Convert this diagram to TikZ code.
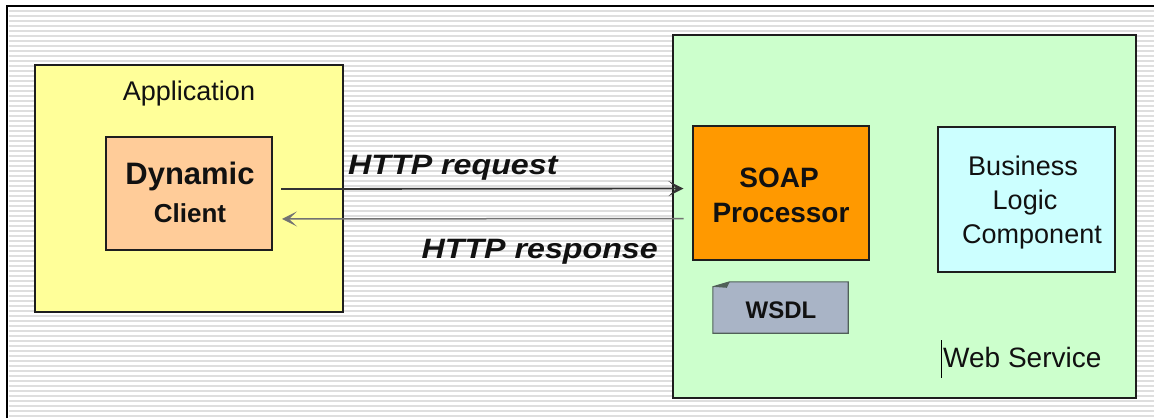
\documentclass[tikz,border=0pt]{standalone}
\usepackage{fontspec}
\setmainfont{Liberation Sans}
\usetikzlibrary{arrows.meta}

\definecolor{appyellow}{HTML}{FFFF99}
\definecolor{clientpeach}{HTML}{FFCC99}
\definecolor{wsgreen}{HTML}{CCFFCC}
\definecolor{soaporange}{HTML}{FF9900}
\definecolor{logiccyan}{HTML}{CCFFFF}
\definecolor{wsdlgray}{RGB}{169,180,198}
\definecolor{wsdledge}{RGB}{80,96,88}
\definecolor{boxline}{RGB}{30,30,30}
\definecolor{inktext}{RGB}{17,17,17}
\definecolor{stripegray}{RGB}{222,222,222}

\newcommand{\fsz}[1]{\fontsize{#1}{#1}\selectfont}

\tikzset{
  box/.style={draw=boxline, line width=1.3pt, inner sep=0pt, outer sep=0pt},
  lbl/.style={text=inktext, inner sep=0pt, anchor=base},
  stripe/.style={draw=stripegray, line width=1.8pt},
  tip/.style={-{Stealth[length=15pt,width=15pt,inset=8pt]}},
  conn/.style={draw=black!80, line width=1.8pt, tip},
  connback/.style={draw=black!55, line width=1.5pt, tip},
}

\begin{document}
\begin{tikzpicture}[x=1pt,y=-1pt]
\useasboundingbox (0,0) rectangle (1154,418);
\fill[white] (0,0) rectangle (1154,418);

% ruled background
\foreach \k in {0,...,81}
  \draw[stripe] (9,11.3+5*\k) -- (1154,11.3+5*\k);
% frame on top and left
\draw[line width=2.6pt, black] (7,418) -- (7,6) -- (1154,6);

% application side
\node[box, fill=appyellow, minimum width=308pt, minimum height=247pt] (app) at (189,188.5) {};
\node[lbl, font=\fsz{27}] (applbl) at (189,100) {Application};
\node[box, fill=clientpeach, minimum width=166pt, minimum height=113pt] (dyn) at (189,193.5) {};
\node[lbl, font=\bfseries\fsz{31}] (dyn1) at (190,184) {Dynamic};
\node[lbl, font=\bfseries\fsz{26}] (dyn2) at (190,222) {Client};

% web service side
\node[box, fill=wsgreen, minimum width=463pt, minimum height=363pt] (ws) at (904.5,216.5) {};
\node[lbl, anchor=base west, font=\fsz{28}] (wslbl) at (943,367) {Web Service};
\draw[line width=1pt, black] (941,340) -- (941,378);

\node[box, fill=soaporange, minimum width=176pt, minimum height=134pt] (soap) at (781,193) {};
\node[lbl, font=\bfseries\fsz{28}] (soap1) at (779,187) {SOAP};
\node[lbl, font=\bfseries\fsz{28}] (soap2) at (781,222) {Processor};

\node[box, fill=logiccyan, minimum width=177pt, minimum height=145pt] (logic) at (1026.5,199.5) {};
\node[lbl, font=\fsz{27}] (bl1) at (1023,175) {Business};
\node[lbl, font=\fsz{27}] (bl2) at (1025,209) {Logic};
\node[lbl, font=\fsz{27}] (bl3) at (1032,243) {Component};

% WSDL document with folded corner
\node[inner sep=0pt, minimum width=135pt, minimum height=51pt] (wsdl) at (780.5,307.5) {};
\draw[wsdledge, line width=1.1pt, fill=wsdlgray]
  ([xshift=17pt]wsdl.north west) -- (wsdl.north east) -- (wsdl.south east)
  -- (wsdl.south west) -- ([yshift=-5pt]wsdl.north west) -- cycle;
\fill[wsdledge] ([yshift=-5pt]wsdl.north west) -- ([xshift=17pt]wsdl.north west)
  -- ([xshift=14pt,yshift=-6pt]wsdl.north west) -- cycle;
\node[lbl, font=\bfseries\fsz{24}] (wsdltext) at (781,318) {WSDL};

% HTTP exchange
\draw[conn, shorten <=9pt, shorten >=9.5pt]
  ([yshift=4.5pt]dyn.east) -- ([yshift=4.5pt]soap.west);
\draw[connback, shorten <=9.5pt, shorten >=10pt]
  ([yshift=-25.5pt]soap.west) -- ([yshift=-25.5pt]dyn.east);
\node[lbl, anchor=base west, font=\bfseries\itshape\fsz{28}] (req) at (348,174)
  {\scalebox{1.15}[1]{HTTP request}};
\node[lbl, anchor=base east, font=\bfseries\itshape\fsz{28}] (resp) at (658,258)
  {\scalebox{1.15}[1]{HTTP response}};
\end{tikzpicture}
\end{document}
